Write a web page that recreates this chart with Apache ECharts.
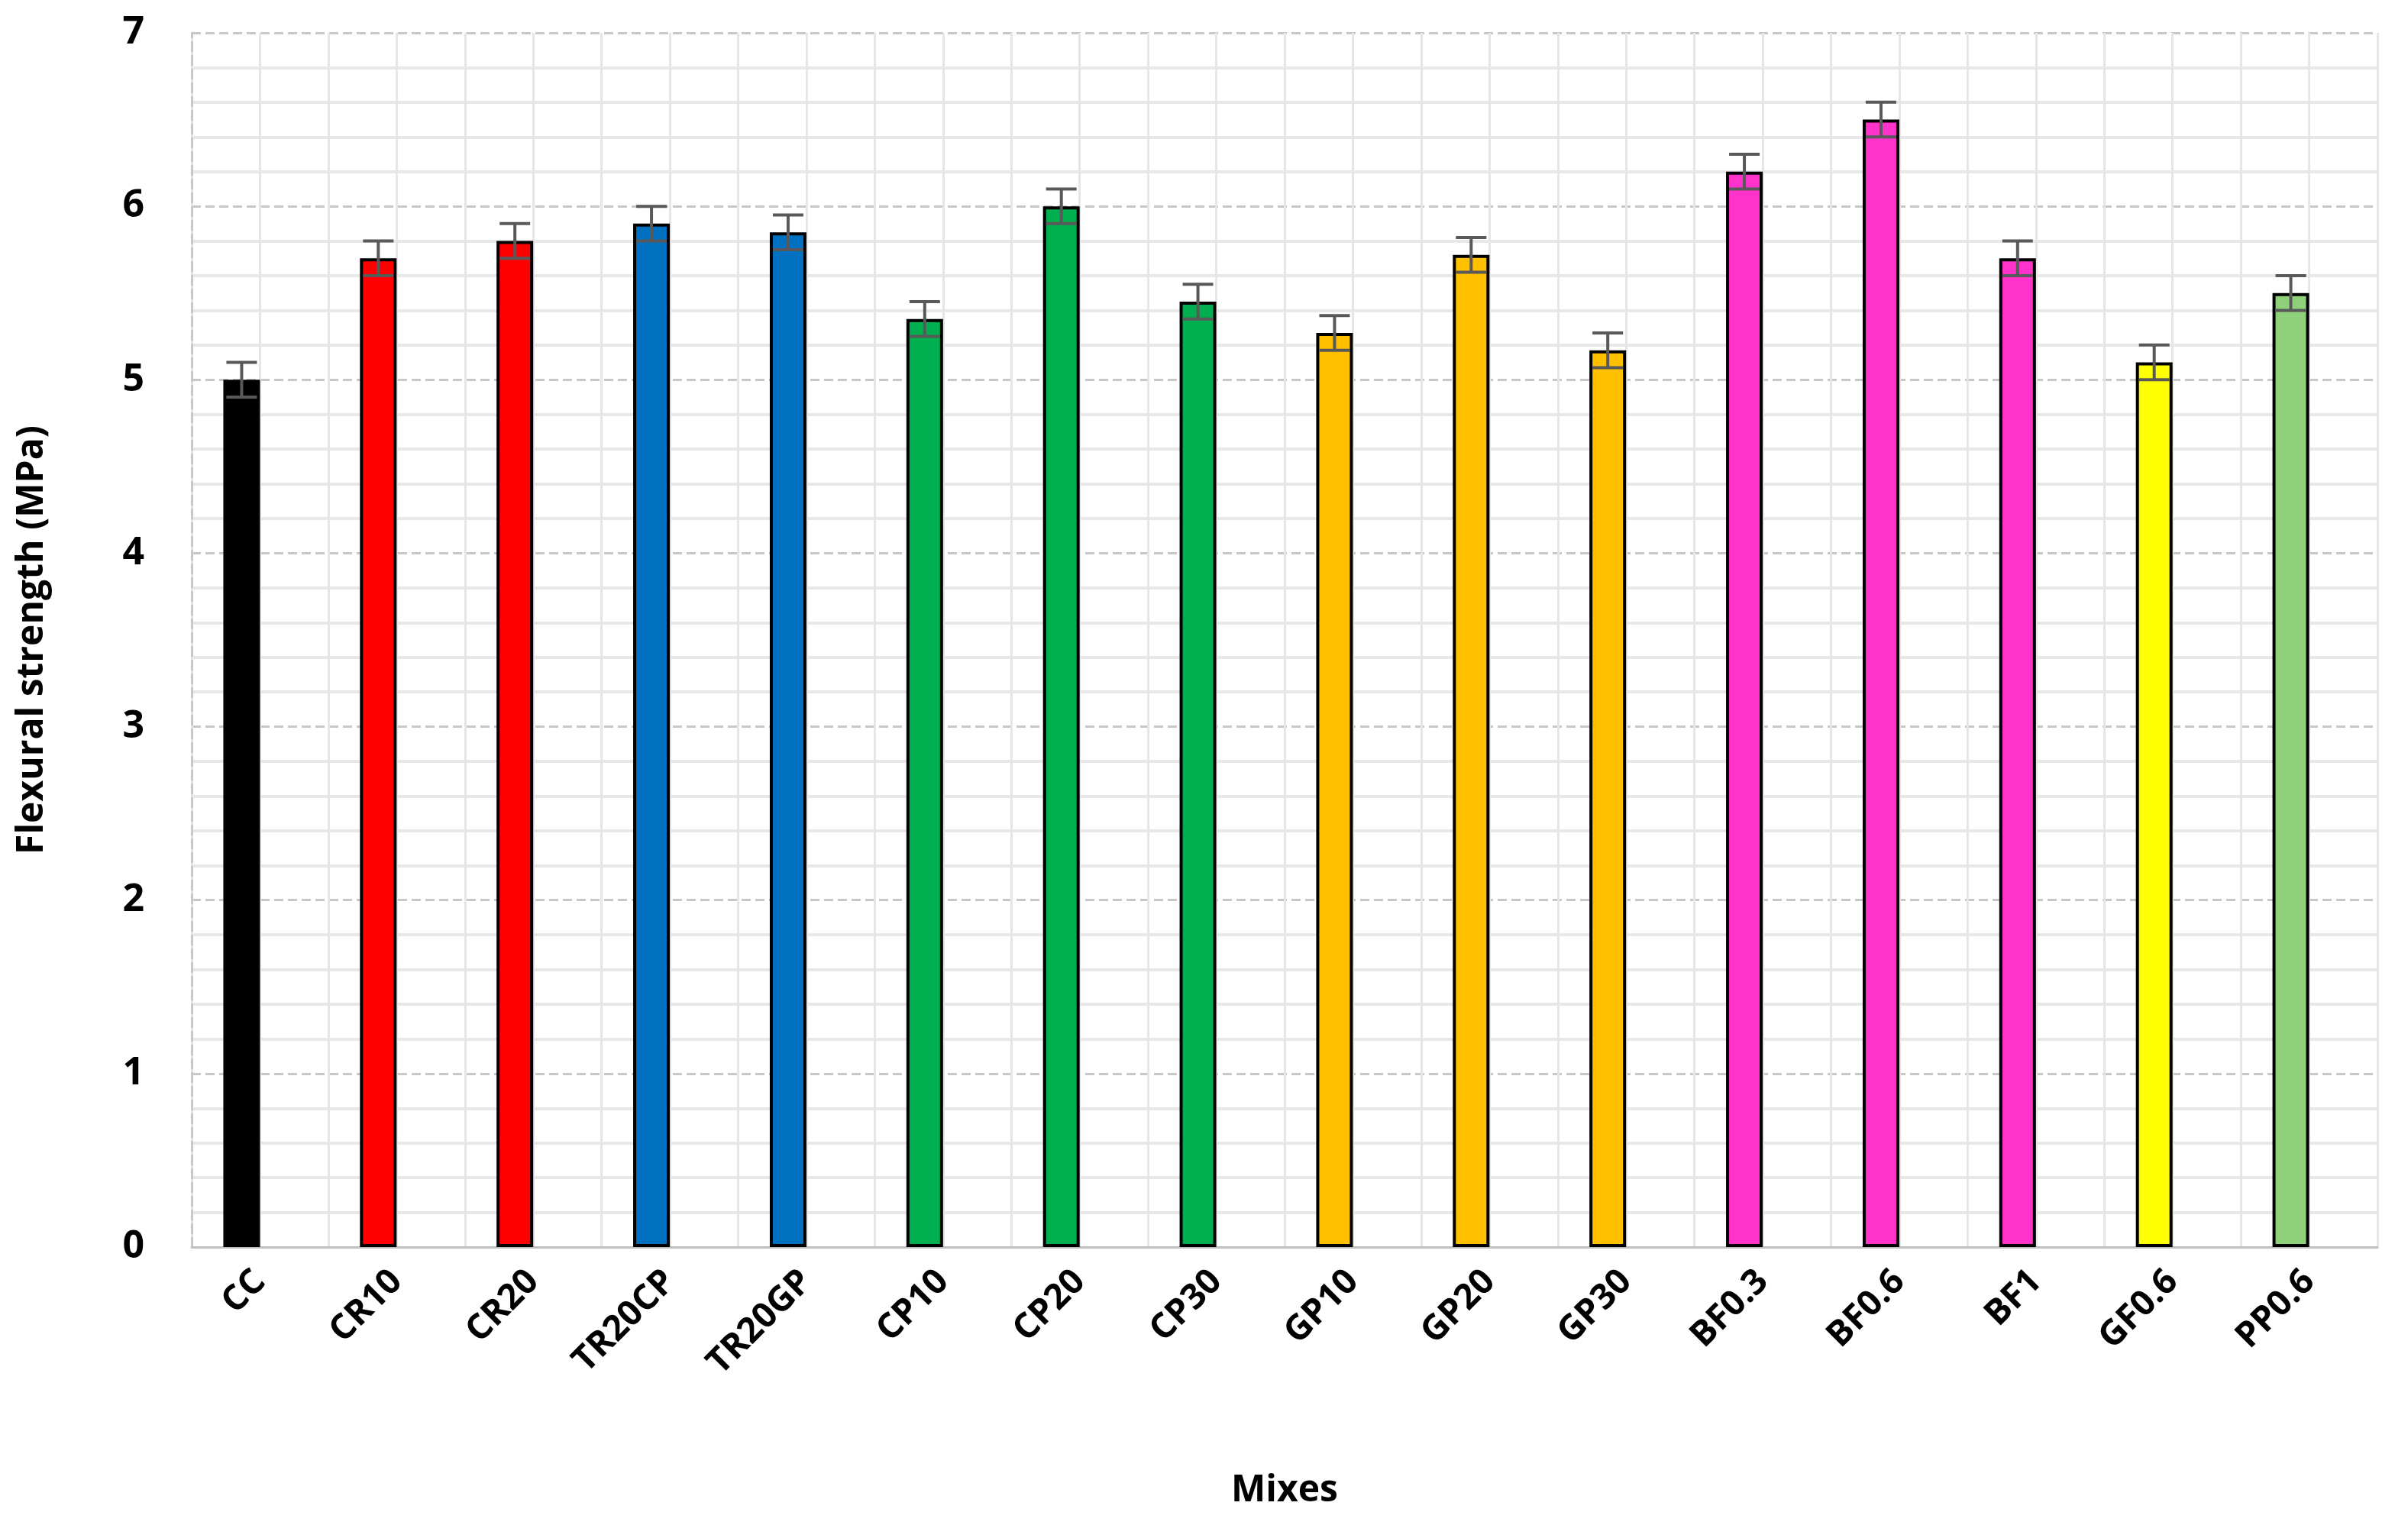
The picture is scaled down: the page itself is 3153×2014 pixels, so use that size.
<!DOCTYPE html>
<html>
<head>
<meta charset="utf-8">
<script src="https://cdn.jsdelivr.net/npm/echarts@6/dist/echarts.min.js"></script>
<style>html,body{margin:0;padding:0;background:#fff}#main{width:3153px;height:2014px}</style>
</head>
<body>
<div id="main"></div>
<script>
// 数据
var mixes = ['CC', 'CR10', 'CR20', 'TR20CP', 'TR20GP', 'CP10', 'CP20', 'CP30', 'GP10', 'GP20', 'GP30', 'BF0.3', 'BF0.6', 'BF1', 'GF0.6', 'PP0.6'];
var strength = [5.0, 5.7, 5.8, 5.9, 5.85, 5.35, 6.0, 5.45, 5.27, 5.72, 5.17, 6.2, 6.5, 5.7, 5.1, 5.5];
var errors = [0.1, 0.1, 0.1, 0.1, 0.1, 0.1, 0.1, 0.1, 0.1, 0.1, 0.1, 0.1, 0.1, 0.1, 0.1, 0.1];
var barColors = ['#000000', '#FF0000', '#FF0000', '#0070C0', '#0070C0', '#00B050', '#00B050', '#00B050',
	'#FFC000', '#FFC000', '#FFC000', '#FF33CC', '#FF33CC', '#FF33CC', '#FFFF00', '#8FD17A'];
var yTicks = [0, 1, 2, 3, 4, 5, 6, 7];

var font = 'Open Sans';
var chart = echarts.init(document.getElementById('main'));

var barData = strength.map(function(v, i) {
	return { value : v, itemStyle : { color : barColors[i] } };
});
var errData = strength.map(function(v, i) {
	return [ i, v - errors[i], v + errors[i] ];
});

chart.setOption({
	animation : false,
	grid : { left : 251, right : 40, top : 43, bottom : 381 },
	xAxis : [ {
		type : 'category',
		data : mixes,
		name : 'Mixes',
		nameLocation : 'middle',
		nameGap : 295,
		nameTextStyle : { fontFamily : font, fontWeight : 'bold', fontSize : 48, color : '#000' },
		axisLine : { lineStyle : { color : '#bfbfbf', width : 3 } },
		axisTick : { show : false },
		axisLabel : { rotate : 45, fontFamily : font, fontWeight : 'bold', fontSize : 46, color : '#000', margin : 38, interval : 0 },
		splitLine : { show : true, lineStyle : { color : '#c8c8c8', width : 3, type : 'dashed' } }
	}, {
		// 辅助轴：类别中心的浅色竖线
		type : 'value',
		min : 0,
		max : 32,
		interval : 1,
		show : true,
		position : 'top',
		axisLine : { show : false },
		axisTick : { show : false },
		axisLabel : { show : false },
		splitLine : { show : true, lineStyle : { color : '#e6e6e6', width : 3 } }
	} ],
	yAxis : {
		type : 'value',
		min : 0,
		max : 7,
		interval : 1,
		name : 'Flexural strength (MPa)',
		nameLocation : 'middle',
		nameGap : 185,
		nameTextStyle : { fontFamily : font, fontWeight : 'bold', fontSize : 48, color : '#000' },
		axisLine : { show : true, lineStyle : { color : '#c8c8c8', width : 3, type : 'dashed' } },
		axisTick : { show : false },
		axisLabel : {
			fontFamily : font, fontWeight : 'bold', fontSize : 50, color : '#000', margin : 62,
			formatter : function(v) { return yTicks.indexOf(v) >= 0 ? String(v) : ''; }
		},
		splitLine : { lineStyle : { color : '#c8c8c8', width : 3, type : 'dashed' } },
		minorTick : { show : false, splitNumber : 5 },
		minorSplitLine : { show : true, lineStyle : { color : '#e8e8e8', width : 4 } }
	},
	series : [ {
		type : 'bar',
		data : barData,
		barWidth : 48,
		barGap : '0%',
		itemStyle : { borderColor : '#000', borderWidth : 4 },
		z : 3
	}, {
		type : 'bar',
		data : mixes.map(function() { return '-'; }),
		barWidth : 48
	}, {
		type : 'custom',
		data : errData,
		z : 5,
		renderItem : function(params, api) {
			var lo = api.coord([ api.value(0), api.value(1) ]);
			var hi = api.coord([ api.value(0), api.value(2) ]);
			var x = lo[0] - 24;
			var w = 20;
			var st = { stroke : '#595959', lineWidth : 4 };
			return {
				type : 'group',
				children : [
					{ type : 'line', shape : { x1 : x, y1 : lo[1], x2 : x, y2 : hi[1] }, style : st },
					{ type : 'line', shape : { x1 : x - w, y1 : lo[1], x2 : x + w, y2 : lo[1] }, style : st },
					{ type : 'line', shape : { x1 : x - w, y1 : hi[1], x2 : x + w, y2 : hi[1] }, style : st }
				]
			};
		}
	} ]
});
</script>
</body>
</html>
